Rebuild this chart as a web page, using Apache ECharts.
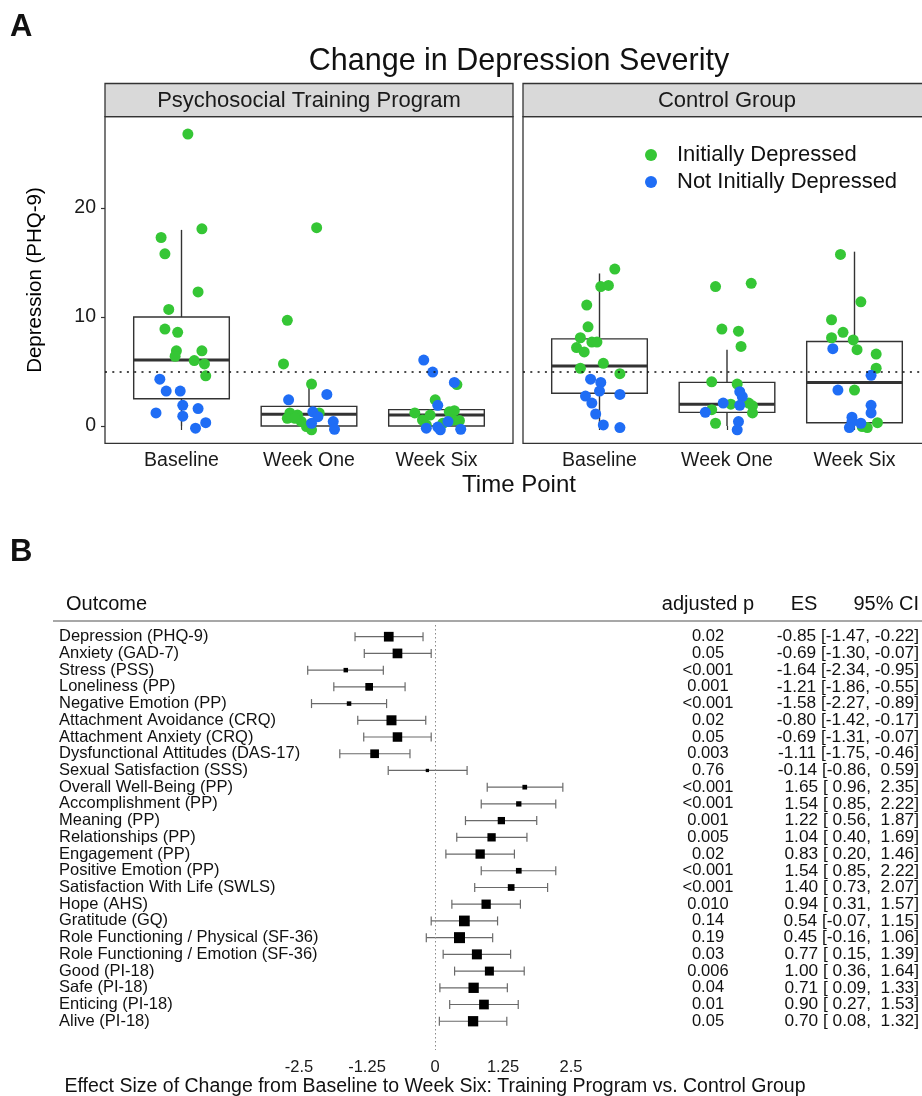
<!DOCTYPE html>
<html><head><meta charset="utf-8">
<script src="https://cdn.jsdelivr.net/npm/echarts@6/dist/echarts.min.js"></script>
<style>html,body{margin:0;padding:0;background:#fff}#c{width:922px;height:1096px}</style>
</head><body><div id="c"></div>
<script>
// ---------------- Panel A data ----------------
const timePoints = ['Baseline', 'Week One', 'Week Six'];
const facets = ['Psychosocial Training Program', 'Control Group'];
const groups = ['Initially Depressed', 'Not Initially Depressed'];
const yTicks = [0, 10, 20];
const xTicks = [1, 2, 3];
const depressionCutoff = 5;

// jittered points: [time point position (1,2,3) + jitter, PHQ-9]
const trainingDepressed = [
  [1.05,26.8],[1.16,18.1],[0.84,17.3],[0.87,15.8],[1.13,12.3],[0.90,10.7],[0.87,8.9],[0.97,8.6],[0.96,6.9],[1.16,6.9],[0.95,6.4],[1.10,6.0],[1.18,5.7],[1.19,4.6],
  [2.06,18.2],[1.83,9.7],[1.80,5.7],[2.02,3.85],[1.85,1.2],[1.83,0.7],[1.91,1.0],[1.94,0.4],[1.98,-0.05],[2.02,-0.35],[2.08,1.2],[1.89,0.7],
  [3.16,3.8],[2.99,2.4],[2.83,1.2],[2.95,1.0],[3.10,1.3],[3.14,1.4],[3.13,0.55],[3.18,0.5],[2.89,0.55],[2.92,0.1],[3.05,0.25]
];
const trainingNotDepressed = [
  [0.83,4.3],[0.88,3.2],[0.99,3.2],[1.01,1.9],[1.13,1.6],[0.80,1.2],[1.01,0.9],[1.19,0.3],[1.11,-0.2],
  [1.84,2.4],[2.14,2.9],[2.03,1.3],[2.07,0.85],[2.02,0.25],[2.19,0.4],[2.20,-0.3],
  [2.90,6.05],[2.97,4.95],[3.14,4.0],[3.01,1.9],[2.92,-0.2],[3.01,-0.1],[3.03,-0.35],[3.19,-0.3],[3.09,0.4]
];
const controlDepressed = [
  [1.12,14.4],[1.01,12.8],[1.07,12.9],[0.90,11.1],[0.91,9.1],[0.85,8.1],[0.94,7.7],[0.98,7.7],[0.82,7.2],[0.88,6.8],[1.03,5.75],[0.85,5.3],[1.16,4.8],
  [1.91,12.8],[2.19,13.1],[1.96,8.9],[2.09,8.7],[2.11,7.3],[1.88,4.05],[2.08,3.85],[2.03,2.0],[2.17,2.1],[2.20,1.85],[2.20,1.2],[1.88,1.5],[1.91,0.25],
  [2.89,15.75],[3.05,11.4],[2.82,9.75],[2.91,8.6],[2.82,8.1],[2.99,7.9],[3.02,7.0],[3.17,6.6],[3.17,5.3],[3.00,3.3],[3.18,0.3],[3.06,-0.05],[3.10,-0.15]
];
const controlNotDepressed = [
  [0.93,4.3],[1.01,4.0],[1.00,3.2],[1.16,2.9],[0.89,2.75],[0.94,2.1],[0.97,1.1],[1.03,0.1],[1.16,-0.15],
  [2.10,3.15],[2.12,2.7],[1.97,2.1],[2.10,1.9],[1.83,1.25],[2.09,0.4],[2.08,-0.35],
  [2.83,7.1],[3.13,4.65],[2.87,3.3],[3.13,1.9],[3.13,1.2],[2.98,0.8],[2.98,0.4],[3.05,0.25],[2.96,-0.15]
];
// box stats: [position, lower whisker, Q1, median, Q3, upper whisker]
const trainingBoxes = [[1,0,2.5,6.05,10.0,18.0],[2,0,0,1.07,1.8,3.7],[3,0,0,1.0,1.5,1.5]];
const controlBoxes  = [[1,0,3.0,5.5,8.0,14.0],[2,0,1.25,2.0,4.0,7.0],[3,0,0.3,4.0,7.75,16.0]];

// ---------------- Panel B data ----------------
const outcomes = ['Depression (PHQ-9)','Anxiety (GAD-7)','Stress (PSS)','Loneliness (PP)','Negative Emotion (PP)',
  'Attachment Avoidance (CRQ)','Attachment Anxiety (CRQ)','Dysfunctional Attitudes (DAS-17)','Sexual Satisfaction (SSS)',
  'Overall Well-Being (PP)','Accomplishment (PP)','Meaning (PP)','Relationships (PP)','Engagement (PP)','Positive Emotion (PP)',
  'Satisfaction With Life (SWLS)','Hope (AHS)','Gratitude (GQ)','Role Functioning / Physical (SF-36)',
  'Role Functioning / Emotion (SF-36)','Good (PI-18)','Safe (PI-18)','Enticing (PI-18)','Alive (PI-18)'];
const adjustedP = ['0.02','0.05','<0.001','0.001','<0.001','0.02','0.05','0.003','0.76','<0.001','<0.001','0.001','0.005',
  '0.02','<0.001','<0.001','0.010','0.14','0.19','0.03','0.006','0.04','0.01','0.05'];
const effectSize = [-0.85,-0.69,-1.64,-1.21,-1.58,-0.80,-0.69,-1.11,-0.14,1.65,1.54,1.22,1.04,0.83,1.54,1.40,0.94,0.54,0.45,0.77,1.00,0.71,0.90,0.70];
const ciLow  = [-1.47,-1.30,-2.34,-1.86,-2.27,-1.42,-1.31,-1.75,-0.86,0.96,0.85,0.56,0.40,0.20,0.85,0.73,0.31,-0.07,-0.16,0.15,0.36,0.09,0.27,0.08];
const ciHigh = [-0.22,-0.07,-0.95,-0.55,-0.89,-0.17,-0.07,-0.46,0.59,2.35,2.22,1.87,1.69,1.46,2.22,2.07,1.57,1.15,1.06,1.39,1.64,1.33,1.53,1.32];
const weight = [0.97,0.97,0.45,0.77,0.45,1.0,0.95,0.87,0.33,0.47,0.53,0.73,0.83,0.93,0.57,0.67,0.93,1.07,1.1,1.0,0.9,1.03,0.97,1.03];
const headers = ['Outcome','adjusted p','ES','95% CI'];
const xTitleB = 'Effect Size of Change from Baseline to Week Six: Training Program vs. Control Group';

// ---------------- helpers ----------------
const FONT = '"Liberation Sans", Arial, Helvetica, sans-serif';
const GREEN = '#35c635', BLUE = '#1f6df5', INK = '#333333';
const fmt = v => (v < 0 ? '' : ' ') + v.toFixed(2);
const esText = outcomes.map((o, i) => effectSize[i].toFixed(2) + ' [' + fmt(ciLow[i]) + ', ' + fmt(ciHigh[i]) + ']');

function renderBox(params, api) {
  const x = api.value(0), half = 0.375;
  const lw = api.coord([x, api.value(1)]), q1 = api.coord([x, api.value(2)]);
  const md = api.coord([x, api.value(3)]), q3 = api.coord([x, api.value(4)]);
  const hw = api.coord([x, api.value(5)]);
  const l = api.coord([x - half, 0])[0], r = api.coord([x + half, 0])[0];
  const st = {stroke: INK, lineWidth: 1.4, fill: null};
  return {type: 'group', children: [
    {type: 'line', shape: {x1: q3[0], y1: q3[1], x2: hw[0], y2: hw[1]}, style: st},
    {type: 'line', shape: {x1: q1[0], y1: q1[1], x2: lw[0], y2: lw[1]}, style: st},
    {type: 'rect', shape: {x: l, y: q3[1], width: r - l, height: q1[1] - q3[1]}, style: st},
    {type: 'line', shape: {x1: l, y1: md[1], x2: r, y2: md[1]}, style: {stroke: INK, lineWidth: 3}}
  ]};
}
function renderForest(params, api) {
  const i = api.value(0);
  const pe = api.coord([api.value(1), i]), pl = api.coord([api.value(2), i]), ph = api.coord([api.value(3), i]);
  const s = api.value(4) * 10, cap = 4.5;
  const st = {stroke: '#6a6a6a', lineWidth: 1.2};
  return {type: 'group', children: [
    {type: 'line', shape: {x1: pl[0], y1: pl[1], x2: ph[0], y2: ph[1]}, style: st},
    {type: 'line', shape: {x1: pl[0], y1: pl[1] - cap, x2: pl[0], y2: pl[1] + cap}, style: st},
    {type: 'line', shape: {x1: ph[0], y1: ph[1] - cap, x2: ph[0], y2: ph[1] + cap}, style: st},
    {type: 'rect', shape: {x: pe[0] - s / 2, y: pe[1] - s / 2, width: s, height: s}, style: {fill: '#000'}}
  ]};
}

const facetGrid = (left) => ({left: left, top: 116.7, width: 408, height: 326.6, show: true,
  borderColor: INK, borderWidth: 1.3, backgroundColor: '#fff', outerBoundsMode: 'none', containLabel: false});
const facetX = (gi, showLabels) => ({gridIndex: gi, type: 'value', min: 0.4, max: 3.6,
  axisLine: {show: false}, splitLine: {show: false},
  axisTick: {show: true, length: 4, customValues: xTicks, lineStyle: {color: INK, width: 1.2}},
  axisLabel: {show: showLabels, customValues: xTicks, formatter: v => timePoints[Math.round(v) - 1],
    color: '#1a1a1a', fontSize: 19.5, fontFamily: FONT, margin: 7}});
const facetY = (gi, showLabels) => ({gridIndex: gi, type: 'value', min: -1.59, max: 28.39,
  axisLine: {show: false}, splitLine: {show: false},
  axisTick: {show: showLabels, length: 4, customValues: yTicks, lineStyle: {color: INK, width: 1.2}},
  axisLabel: {show: showLabels, customValues: yTicks, color: '#1a1a1a', fontSize: 19.5, fontFamily: FONT, margin: 9},
  name: showLabels ? 'Depression (PHQ-9)' : '', nameLocation: 'middle', nameGap: 59, nameRotate: 90,
  nameTextStyle: {fontSize: 20.5, fontFamily: FONT, color: '#000'}});

const cutoffLine = {silent: true, symbol: 'none', label: {show: false},
  lineStyle: {color: '#111', type: [2, 5.3], width: 1.6}, data: [{yAxis: depressionCutoff}]};
const pointSeries = (name, data, gi, color) => ({type: 'scatter', name: name, xAxisIndex: gi, yAxisIndex: gi,
  data: data, symbolSize: 11, itemStyle: {color: color, opacity: 1}, z: 4, silent: true});

const hText = (text, x, y, size, align, weight) => ({text: text, left: x, top: y, textAlign: align || 'left', padding: 0,
  textStyle: {fontSize: size, fontFamily: FONT, fontWeight: weight || 'normal', color: '#111'}});

const option = {
  backgroundColor: '#fff',
  animation: false,
  title: [
    hText('A', 10, 12, 31, 'left', 'bold'),
    hText('Change in Depression Severity', 519, 46, 30.5, 'center'),
    hText('Time Point', 519, 473, 24, 'center'),
    hText('B', 10, 537, 31, 'left', 'bold'),
    hText(headers[0], 66, 594, 20, 'left'),
    hText(headers[1], 708, 594, 20, 'center'),
    hText(headers[2], 804, 594, 20, 'center'),
    hText(headers[3], 919, 594, 20, 'right')
  ],
  legend: {data: groups, orient: 'vertical', left: 640, top: 139, icon: 'circle', itemWidth: 12, itemHeight: 12,
    itemGap: 5, selectedMode: false,
    textStyle: {fontSize: 22, fontFamily: FONT, color: '#111', lineHeight: 22, padding: [0, 0, 0, 15]}},
  graphic: [
    {type: 'rect', shape: {x: 105, y: 83.5, width: 408, height: 33.2}, style: {fill: '#d9d9d9', stroke: INK, lineWidth: 1.3}, z: 10},
    {type: 'text', x: 309, y: 100.5, style: {text: facets[0], fill: '#1a1a1a', font: '22px ' + FONT,
      align: 'center', verticalAlign: 'middle', textAlign: 'center', textVerticalAlign: 'middle'}, z: 11},
    {type: 'rect', shape: {x: 523, y: 83.5, width: 408, height: 33.2}, style: {fill: '#d9d9d9', stroke: INK, lineWidth: 1.3}, z: 10},
    {type: 'text', x: 727, y: 100.5, style: {text: facets[1], fill: '#1a1a1a', font: '22px ' + FONT,
      align: 'center', verticalAlign: 'middle', textAlign: 'center', textVerticalAlign: 'middle'}, z: 11},
    {type: 'line', shape: {x1: 53, y1: 621, x2: 922, y2: 621}, style: {stroke: '#8a8a8a', lineWidth: 1.5}}
  ],
  grid: [
    facetGrid(105),
    facetGrid(523),
    {left: 299, width: 272, top: 625, height: 425, show: false, outerBoundsMode: 'none', containLabel: false},
    {left: 59, right: 3, top: 628.3, height: 401.3, show: false, outerBoundsMode: 'none', containLabel: false}
  ],
  xAxis: [
    facetX(0, true),
    facetX(1, true),
    {gridIndex: 2, type: 'value', min: -2.5, max: 2.5, interval: 1.25,
      axisLine: {show: false}, axisTick: {show: false}, splitLine: {show: false},
      axisLabel: {color: '#1a1a1a', fontSize: 16.5, fontFamily: FONT, margin: 9, formatter: v => String(v)},
      name: xTitleB, nameLocation: 'middle', nameGap: 25,
      nameTextStyle: {fontSize: 19.5, fontFamily: FONT, color: '#111'}},
    {gridIndex: 3, type: 'value', min: 0, max: 1, show: false}
  ],
  yAxis: [
    facetY(0, true),
    facetY(1, false),
    {gridIndex: 2, type: 'value', inverse: true, min: -0.7, max: 24.72, show: false},
    {gridIndex: 3, type: 'category', inverse: true, position: 'left', data: outcomes,
      axisLine: {show: false}, axisTick: {show: false}, splitLine: {show: false},
      axisLabel: {interval: 0, align: 'left', margin: 0, color: '#111', fontSize: 16.5, fontFamily: FONT}},
    {gridIndex: 3, type: 'category', inverse: true, position: 'right', offset: -211, data: adjustedP,
      axisLine: {show: false}, axisTick: {show: false}, splitLine: {show: false},
      axisLabel: {interval: 0, align: 'center', margin: 0, color: '#111', fontSize: 16.5, fontFamily: FONT}},
    {gridIndex: 3, type: 'category', inverse: true, position: 'right', offset: 0, data: esText,
      axisLine: {show: false}, axisTick: {show: false}, splitLine: {show: false},
      axisLabel: {interval: 0, align: 'right', margin: 0, color: '#111', fontSize: 17.3, fontFamily: FONT}}
  ],
  series: [
    {type: 'custom', name: 'box-training', xAxisIndex: 0, yAxisIndex: 0, data: trainingBoxes,
      encode: {x: 0, y: [1, 2, 3, 4, 5]}, renderItem: renderBox, z: 2, silent: true, markLine: cutoffLine},
    {type: 'custom', name: 'box-control', xAxisIndex: 1, yAxisIndex: 1, data: controlBoxes,
      encode: {x: 0, y: [1, 2, 3, 4, 5]}, renderItem: renderBox, z: 2, silent: true, markLine: cutoffLine},
    pointSeries(groups[0], trainingDepressed, 0, GREEN),
    pointSeries(groups[1], trainingNotDepressed, 0, BLUE),
    pointSeries(groups[0], controlDepressed, 1, GREEN),
    pointSeries(groups[1], controlNotDepressed, 1, BLUE),
    {type: 'custom', name: 'forest', xAxisIndex: 2, yAxisIndex: 2,
      data: outcomes.map((o, i) => [i, effectSize[i], ciLow[i], ciHigh[i], weight[i]]),
      encode: {x: [1, 2, 3], y: 0}, renderItem: renderForest, silent: true,
      markLine: {silent: true, symbol: 'none', label: {show: false},
        lineStyle: {color: '#8a8a8a', type: [1.5, 2.5], width: 1}, data: [{xAxis: 0}]}}
  ]
};
const chart = echarts.init(document.getElementById('c'), null, {renderer: 'canvas'});
chart.setOption(option);
</script></body></html>
